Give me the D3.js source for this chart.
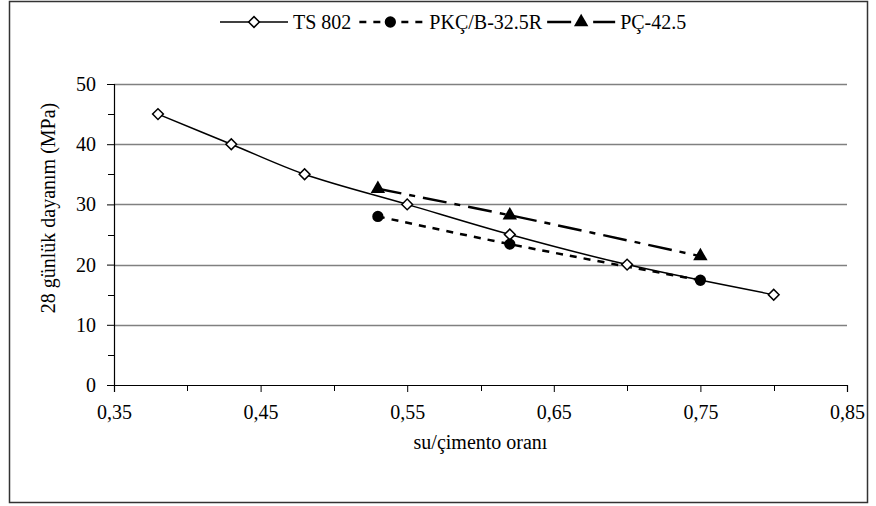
<!DOCTYPE html>
<html>
<head>
<meta charset="utf-8">
<script src="https://cdn.jsdelivr.net/npm/d3@7"></script>
<style>
  body { margin: 0; background: #fff; }
  svg text { font-family: "Liberation Serif", "Times New Roman", serif; fill: #000; }
</style>
</head>
<body>
<svg class="chart"></svg>
<script>
// DATA
var seriesNames = ["TS 802", "PKÇ/B-32.5R", "PÇ-42.5"];
var ts802X = [0.38, 0.43, 0.48, 0.55, 0.62, 0.70, 0.80];
var ts802Y = [45, 40, 35, 30, 25, 20, 15];
var pkcX = [0.53, 0.62, 0.75];
var pkcY = [28, 23.4, 17.4];
var pcX = [0.53, 0.62, 0.75];
var pcY = [32.6, 28.2, 21.4];
var xTicks = [0.35, 0.45, 0.55, 0.65, 0.75, 0.85];
var yTicks = [0, 10, 20, 30, 40, 50];

var W = 876, H = 506;
var margin = {top: 84, right: 29, bottom: 121, left: 114};
var width = W - margin.left - margin.right,
    height = H - margin.top - margin.bottom;
var fontSize = "20px";

var svg = d3.select(".chart").attr("width", W).attr("height", H);

// OUTER FRAME
svg.append("rect")
    .attr("x", 9.5).attr("y", 1.5)
    .attr("width", 858).attr("height", 501)
    .attr("fill", "none").attr("stroke", "#333").attr("stroke-width", 1.5);

var g = svg.append("g").attr("transform", "translate(" + margin.left + "," + margin.top + ")");

var x = d3.scaleLinear().domain([0.35, 0.85]).range([0, width]);
var y = d3.scaleLinear().domain([0, 50]).range([height, 0]);

// GRIDLINES
g.selectAll(".grid").data(yTicks.filter(function(d) { return d > 0; }))
  .enter().append("line")
    .attr("x1", 0).attr("x2", width)
    .attr("y1", function(d) { return Math.round(y(d)) + 0.5; })
    .attr("y2", function(d) { return Math.round(y(d)) + 0.5; })
    .attr("stroke", "#808080").attr("stroke-width", 1.5);

// MINOR TICKS
var minorY = d3.range(5, 50, 10);
var minorX = d3.range(0.40, 0.85, 0.1);
g.selectAll(".my").data(minorY).enter().append("line")
    .attr("x1", -6).attr("x2", 0)
    .attr("y1", function(d) { return Math.round(y(d)) + 0.5; })
    .attr("y2", function(d) { return Math.round(y(d)) + 0.5; })
    .attr("stroke", "#000");
g.selectAll(".mx").data(minorX).enter().append("line")
    .attr("y1", height).attr("y2", height + 6)
    .attr("x1", function(d) { return Math.round(x(d)) + 0.5; })
    .attr("x2", function(d) { return Math.round(x(d)) + 0.5; })
    .attr("stroke", "#000");

// AXES
var xAxis = d3.axisBottom(x).tickValues(xTicks).tickSize(7).tickPadding(13)
    .tickFormat(function(d) { return d3.format(".2f")(d).replace(".", ","); });
var yAxis = d3.axisLeft(y).tickValues(yTicks).tickSize(7).tickPadding(11);

var gx = g.append("g").attr("transform", "translate(0," + height + ")").call(xAxis);
var gy = g.append("g").call(yAxis);
[gx, gy].forEach(function(a) {
  a.attr("font-family", null);
  a.select(".domain").attr("stroke", "#000").attr("stroke-width", 1.2);
  a.selectAll(".tick line").attr("stroke", "#000");
  a.selectAll("text").style("font-size", fontSize).attr("fill", "#000");
});

// AXIS TITLES
svg.append("text")
    .attr("x", margin.left + width / 2).attr("y", 449)
    .attr("text-anchor", "middle").style("font-size", fontSize)
    .text("su/çimento oranı");
svg.append("text")
    .attr("transform", "translate(55,208) rotate(-90)")
    .attr("text-anchor", "middle").style("font-size", fontSize)
    .text("28 günlük dayanım (MPa)");

// LINES
function pts(xs, ys) { return xs.map(function(d, i) { return [d, ys[i]]; }); }
var line = d3.line()
    .x(function(d) { return x(d[0]); })
    .y(function(d) { return y(d[1]); })
    .curve(d3.curveCatmullRom.alpha(0.5));

var dashPk = "7,7", dashPc = "24,8,6,8";

g.append("path").datum(pts(ts802X, ts802Y))
    .attr("d", line)
    .attr("fill", "none").attr("stroke", "#000").attr("stroke-width", 1.5);
g.append("path").datum(pts(pkcX, pkcY))
    .attr("d", line)
    .attr("fill", "none").attr("stroke", "#000").attr("stroke-width", 2.5)
    .attr("stroke-dasharray", dashPk);
g.append("path").datum(pts(pcX, pcY))
    .attr("d", line)
    .attr("fill", "none").attr("stroke", "#000").attr("stroke-width", 2.5)
    .attr("stroke-dasharray", dashPc);

// MARKERS
var square = d3.symbol().type(d3.symbolSquare).size(58);
var circle = d3.symbol().type(d3.symbolCircle).size(100);
var tri = d3.symbol().type(d3.symbolTriangle).size(90);

g.selectAll(".ts").data(pts(ts802X, ts802Y)).enter().append("path")
    .attr("transform", function(d) { return "translate(" + x(d[0]) + "," + y(d[1]) + ") rotate(45)"; })
    .attr("d", square)
    .attr("fill", "#fff").attr("stroke", "#000").attr("stroke-width", 1.5);
g.selectAll(".pk").data(pts(pkcX, pkcY)).enter().append("path")
    .attr("transform", function(d) { return "translate(" + x(d[0]) + "," + y(d[1]) + ")"; })
    .attr("d", circle).attr("fill", "#000");
g.selectAll(".pc").data(pts(pcX, pcY)).enter().append("path")
    .attr("transform", function(d) { return "translate(" + x(d[0]) + "," + y(d[1]) + ")"; })
    .attr("d", tri).attr("fill", "#000");

// LEGEND
var leg = svg.append("g").attr("transform", "translate(220,22)");
var lx = 0, sw = 68;
seriesNames.forEach(function(name, i) {
  var s = leg.append("g").attr("transform", "translate(" + lx + ",0)");
  var ln = s.append("line").attr("x1", 0).attr("x2", sw).attr("y1", 0).attr("y2", 0)
      .attr("stroke", "#000");
  if (i === 0) {
    ln.attr("stroke-width", 1.5);
    s.append("path").attr("transform", "translate(" + sw / 2 + ",0) rotate(45)")
        .attr("d", square)
        .attr("fill", "#fff").attr("stroke", "#000").attr("stroke-width", 1.5);
  } else if (i === 1) {
    ln.attr("stroke-width", 2.5).attr("stroke-dasharray", dashPk).attr("stroke-dashoffset", -3);
    s.append("path").attr("transform", "translate(" + sw / 2 + ",0)").attr("d", circle).attr("fill", "#000");
  } else {
    ln.attr("stroke-width", 2.5).attr("stroke-dasharray", dashPc);
    s.append("path").attr("transform", "translate(" + sw / 2 + ",0)").attr("d", tri).attr("fill", "#000");
  }
  var t = s.append("text").attr("x", sw + 5).attr("y", 7).style("font-size", fontSize).text(name);
  lx += sw + 5 + t.node().getComputedTextLength() + 5;
});
</script>
</body>
</html>
